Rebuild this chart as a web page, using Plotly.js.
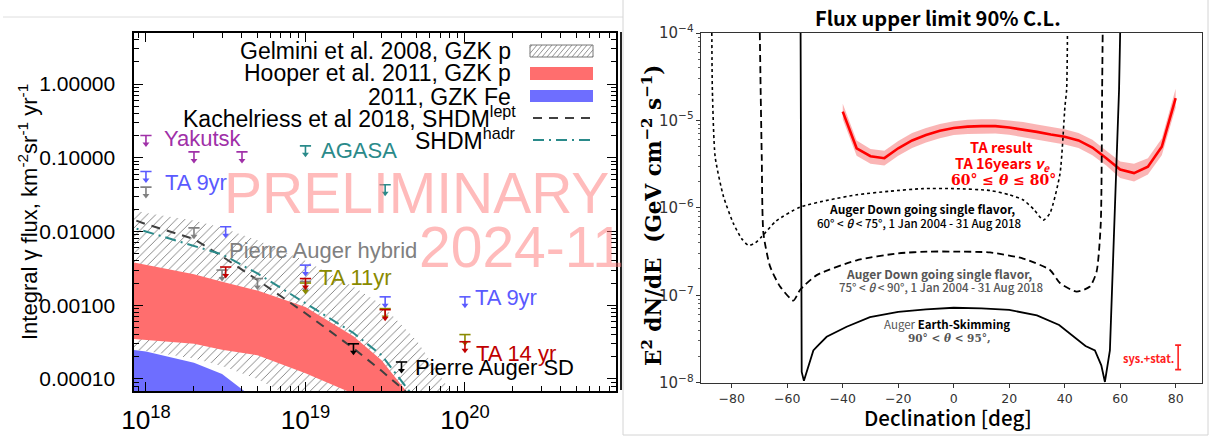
<!DOCTYPE html>
<html><head><meta charset="utf-8">
<script src="https://cdn.plot.ly/plotly-3.0.1.min.js"></script>
<style>html,body{margin:0;padding:0;background:#fff}#chart{width:1214px;height:436px}</style>
</head><body><div id="chart"></div>
<script>
const W = 1214, H = 436;

// ================= LEFT PANEL: integral photon flux =================
// band boundaries (energy in eV, flux in km^-2 sr^-1 yr^-1)
const bandEnergy    = [7e17, 1e18, 2e18, 3e18, 5e18, 1e19, 2e19, 3e19, 5e19, 8e19, 1e20];
const gelminiUpper  = [0.0214, 0.0178, 0.0141, 0.0112, 0.0076, 0.0040, 0.00178, 0.00102, 0.00033, 0.000071, 0.000025];
const gelminiLower  = [0.00026, 0.00024, 0.00019, 0.00015, 0.0001, 0.000045, 0.000016, 0.000008, 0.000003, 0.000001, 0.000001];
const hooperPUpper  = [0.0041, 0.00355, 0.00263, 0.00209, 0.00158, 0.00095, 0.00038, 0.00018, 0.000045, 0.00001, 0.000005];
const hooperPLower  = [0.00036, 0.00034, 0.0003, 0.00025, 0.00021, 0.00012, 0.000063, 0.000032, 0.00001, 0.000003, 0.000001];
const hooperFeUpper = [0.00026, 0.000235, 0.000166, 0.000117, 0.00005, 0.00001, 0.000002, 0.000001, 0.000001, 0.000001, 0.000001];
const hooperFeLower = [0.000001, 0.000001, 0.000001, 0.000001, 0.000001, 0.000001, 0.000001, 0.000001, 0.000001, 0.000001, 0.000001];
// SHDM model lines
const shdmEnergy = [7e17, 1e18, 2e18, 3e18, 5e18, 1e19, 2e19, 3e19, 5e19];
const shdmLept   = [0.0166, 0.0126, 0.0079, 0.0046, 0.0022, 0.00078, 0.00026, 0.000129, 0.00005];
const shdmHadr   = [0.0126, 0.0100, 0.00646, 0.0049, 0.0027, 0.00107, 0.00042, 0.00021, 0.00005];
// upper limits
const yakutskE = [1e18, 2e18, 4e18],            yakutskF = [0.20, 0.12, 0.12];
const agasaE   = [1e19, 3.16e19],                agasaF   = [0.145, 0.043];
const ta9E     = [1e18, 3.16e18, 1e19, 3.16e19, 1e20], ta9F = [0.065, 0.0116, 0.0035, 0.0013, 0.0013];
const pahE     = [1e18, 2e18, 3e18, 5e18, 1e19], pahF = [0.040, 0.0112, 0.0030, 0.0023, 0.0021];
const ta11E    = [1e19, 3.16e19, 1e20],          ta11F    = [0.0020, 0.0009, 0.0004];
const ta14E    = [3.16e18, 1e19, 3.16e19, 1e20], ta14F    = [0.0033, 0.0023, 0.00087, 0.00032];
const pasdE    = [2e19, 4e19],                   pasdF    = [0.0003, 0.00017];

// ================= RIGHT PANEL: E^2 dN/dE vs declination =================
const taDec   = [-40,-35,-30,-25,-20,-15,-10,-5,0,5,10,15,20,25,30,35,40,45,50,55,60,65,70,75,80];
const taFlux  = [1.26e-5,4.8e-6,3.9e-6,3.7e-6,4.8e-6,5.9e-6,6.8e-6,7.6e-6,8.2e-6,8.5e-6,8.6e-6,8.6e-6,8.3e-6,7.9e-6,7.4e-6,6.9e-6,6.5e-6,5.9e-6,4.9e-6,3.7e-6,2.75e-6,2.5e-6,2.95e-6,5.0e-6,1.8e-5];
const taUpper = [1.55e-5,5.9e-6,4.7e-6,4.5e-6,5.8e-6,7.2e-6,8.2e-6,9.1e-6,9.8e-6,1.02e-5,1.03e-5,1.03e-5,1.0e-5,9.6e-6,9.0e-6,8.4e-6,7.9e-6,7.2e-6,6.0e-6,4.5e-6,3.4e-6,3.2e-6,3.7e-6,6.2e-6,2.3e-5];
const taLower = [1.03e-5,3.95e-6,3.2e-6,3.05e-6,3.95e-6,4.85e-6,5.6e-6,6.25e-6,6.8e-6,7.0e-6,7.1e-6,7.1e-6,6.85e-6,6.5e-6,6.05e-6,5.65e-6,5.3e-6,4.85e-6,4.0e-6,3.05e-6,2.2e-6,2.0e-6,2.4e-6,4.0e-6,1.4e-5];

const dg6075Dec  = [-87.2,-87.0,-86.0,-83.0,-79.4,-76.5,-74.0,-71.5,-69.2,-64,-55.4,-45,-35,-23,-11,0,13.1,20,25.1,29,32.3,34.7,38.3,40.1,40.7,41.0];
const dg6075Flux = [1e-4,2.24e-5,3.85e-6,1.35e-6,6.6e-7,4.47e-7,3.72e-7,3.98e-7,4.68e-7,7.08e-7,1.02e-6,1.23e-6,1.41e-6,1.55e-6,1.66e-6,1.66e-6,1.58e-6,1.41e-6,1.23e-6,9.5e-7,7.24e-7,8.7e-7,2.45e-6,1.45e-5,2.24e-5,1e-4];

const dg7590Dec  = [-69.9,-69.6,-69.2,-68.6,-66.2,-62.6,-57.8,-55.4,-49.4,-35,-20,-8.5,0,13.1,25,34.7,38.3,44.3,49.1,51.5,53.0,53.5,53.7];
const dg7590Flux = [1e-4,2.24e-5,3.85e-6,5.13e-7,2.14e-7,1.26e-7,8.7e-8,1.15e-7,1.70e-7,2.51e-7,3.02e-7,3.16e-7,3.16e-7,3.09e-7,2.63e-7,1.95e-7,1.38e-7,1.10e-7,1.26e-7,1.86e-7,6.6e-7,2.24e-5,1e-4];

const esDec  = [-55.2,-55.0,-54.8,-54.0,-52.4,-50.6,-49.4,-45.8,-38.6,-30.2,-20,-10,0,10,20,30,38,43.1,47.5,50.9,53.2,54.5,55.5,56.3,59.6,60.0];
const esFlux = [1e-4,2.0e-8,1.33e-8,1.05e-8,1.58e-8,2.34e-8,2.57e-8,3.35e-8,4.37e-8,5.62e-8,6.46e-8,6.9e-8,7.2e-8,7.1e-8,6.8e-8,5.9e-8,4.57e-8,3.39e-8,2.63e-8,2.34e-8,1.58e-8,1.02e-8,1.55e-8,2.34e-8,2.24e-5,1e-4];

const sysDec = [80.9], sysFlux = [1.95e-8], sysPlus = [0.74e-8], sysMinus = [0.54e-8];

// tick labels
const leftYTickVals  = [1e-4, 1e-3, 1e-2, 1e-1, 1];
const leftYTickText  = ['0.00010', '0.00100', '0.01000', '0.10000', '1.00000'];

// ================= helpers =================
function band(x, up, lo) { return { x: x.concat([...x].reverse()), y: up.concat([...lo].reverse()) }; }
const traces = [];
const g = band(bandEnergy, gelminiUpper, gelminiLower);
traces.push({ x: g.x, y: g.y, xaxis: 'x', yaxis: 'y', mode: 'lines', fill: 'toself', line: { width: 0 },
  fillcolor: '#ffffff', fillpattern: { shape: '/', fgcolor: '#666', bgcolor: '#ffffff', size: 6, solidity: 0.13 }, hoverinfo: 'skip' });
const hp = band(bandEnergy, hooperPUpper, hooperPLower);
traces.push({ x: hp.x, y: hp.y, xaxis: 'x', yaxis: 'y', mode: 'lines', fill: 'toself', line: { width: 0 }, fillcolor: '#ff6e6e', hoverinfo: 'skip' });
const hf = band(bandEnergy, hooperFeUpper, hooperFeLower);
traces.push({ x: hf.x, y: hf.y, xaxis: 'x', yaxis: 'y', mode: 'lines', fill: 'toself', line: { width: 0 }, fillcolor: '#6e6eff', hoverinfo: 'skip' });
traces.push({ x: shdmEnergy, y: shdmLept, xaxis: 'x', yaxis: 'y', mode: 'lines', line: { color: '#404040', width: 2, dash: '9px,7px' } });
traces.push({ x: shdmEnergy, y: shdmHadr, xaxis: 'x', yaxis: 'y', mode: 'lines', line: { color: '#2a8a8a', width: 2, dash: '11px,5px,2px,5px' } });

function ul(E, F, color) {
  traces.push({ x: E, y: F, xaxis: 'x', yaxis: 'y', mode: 'markers', hoverinfo: 'skip',
    marker: { symbol: 'line-ew', size: 8, color: color, line: { width: 1.6, color: color } },
    error_y: { type: 'data', symmetric: false, array: F.map(() => 0), arrayminus: F.map(v => v * (1 - Math.pow(10, -0.1))), width: 0, thickness: 1.6, color: color } });
  traces.push({ x: E, y: F.map(v => v * Math.pow(10, -0.115)), xaxis: 'x', yaxis: 'y', mode: 'markers', hoverinfo: 'skip',
    marker: { symbol: 'triangle-down', size: 6, color: color, line: { width: 0 } } });
}
ul(yakutskE, yakutskF, '#a030a8');
ul(agasaE, agasaF, '#2a8a8a');
ul(pahE, pahF, '#808080');
ul(ta9E, ta9F, '#5a5aff');
ul(ta11E, ta11F, '#8a8a00');
ul(ta14E, ta14F, '#c00000');
ul(pasdE, pasdF, '#000000');

// right panel
const tb = band(taDec, taUpper, taLower);
traces.push({ x: tb.x, y: tb.y, xaxis: 'x2', yaxis: 'y2', mode: 'lines', fill: 'toself', line: { width: 0 }, fillcolor: 'rgba(245,120,120,0.55)', hoverinfo: 'skip' });
traces.push({ x: taDec, y: taFlux, xaxis: 'x2', yaxis: 'y2', mode: 'lines', line: { color: '#ff0000', width: 2.6 } });
traces.push({ x: dg6075Dec, y: dg6075Flux, xaxis: 'x2', yaxis: 'y2', mode: 'lines', line: { color: '#000', width: 1.6, dash: 'dot', shape: 'spline', smoothing: 0.6 } });
traces.push({ x: dg7590Dec, y: dg7590Flux, xaxis: 'x2', yaxis: 'y2', mode: 'lines', line: { color: '#000', width: 1.8, dash: '7px,4px', shape: 'spline', smoothing: 0.6 } });
traces.push({ x: esDec, y: esFlux, xaxis: 'x2', yaxis: 'y2', mode: 'lines', line: { color: '#000', width: 1.8 } });
traces.push({ x: sysDec, y: sysFlux, xaxis: 'x2', yaxis: 'y2', mode: 'markers', marker: { size: 1, color: 'rgba(0,0,0,0)' },
  error_y: { type: 'data', symmetric: false, array: sysPlus, arrayminus: sysMinus, color: '#ff2020', thickness: 1.6, width: 3 } });

const P = (x, y) => ({ xref: 'paper', yref: 'paper', x: x / W, y: 1 - y / H });
function ann(text, x, y, o) { return Object.assign({ text: text, showarrow: false, xanchor: 'center', yanchor: 'middle' }, P(x, y), o || {}); }
const LS = 'Liberation Sans, Arial, sans-serif';
const JP = 'Noto Sans CJK JP, Noto Sans, sans-serif';
const lf = (c, s) => ({ family: LS, size: s || 22, color: c });

const annotations = [
  // watermark
  ann('PRELIMINARY', 416, 193, { font: { family: LS, size: 57, color: 'rgba(255,120,120,0.5)' } }),
  ann('2024-11', 417, 247, { xanchor: 'left', font: { family: LS, size: 57, color: 'rgba(255,120,120,0.5)' } }),
  // legend texts
  ann('Gelmini et al. 2008, GZK p', 513, 51, { xanchor: 'right', font: lf('#000', 23) }),
  ann('Hooper et al. 2011, GZK p', 513, 73, { xanchor: 'right', font: lf('#000', 23) }),
  ann('2011, GZK Fe', 513, 97, { xanchor: 'right', font: lf('#000', 23) }),
  ann('Kachelriess et al 2018, SHDM<sup>lept</sup>', 518, 117, { xanchor: 'right', font: lf('#000', 23) }),
  ann('SHDM<sup>hadr</sup>', 518, 139, { xanchor: 'right', font: lf('#000', 23) }),
  // data labels
  ann('Yakutsk', 162, 139, { xanchor: 'left', font: lf('#a030a8', 22) }),
  ann('AGASA', 319, 150, { xanchor: 'left', font: lf('#2a8a8a', 22) }),
  ann('TA 9yr', 163, 182, { xanchor: 'left', font: lf('#5a5aff', 22) }),
  ann('Pierre Auger hybrid', 227, 250, { xanchor: 'left', font: lf('#808080', 22) }),
  ann('TA 11yr', 317, 277, { xanchor: 'left', font: lf('#8a8a00', 22) }),
  ann('TA 9yr', 473, 297, { xanchor: 'left', font: lf('#5a5aff', 22) }),
  ann('TA 14 yr', 474, 353, { xanchor: 'left', font: lf('#c00000', 22) }),
  ann('Pierre Auger SD', 413, 367, { xanchor: 'left', font: lf('#000', 22) }),
  // left y title
  ann('Integral γ flux, km<sup>-2</sup>sr<sup>-1</sup> yr<sup>-1</sup>', 28, 212, { textangle: -90, font: lf('#000', 22) }),
  // right panel
  ann('<b>Flux upper limit 90% C.L.</b>', 938, 18, { font: { family: JP, size: 20, color: '#000' } }),
  ann('Declination [deg]', 948, 417, { font: { family: JP, size: 20.5, color: '#000', weight: 500 } }),
  ann('<b>E<sup>2</sup> dN/dE  (GeV cm<sup>−2</sup> s<sup>−1</sup>)</b>', 652, 216, { textangle: -90, font: { family: 'DejaVu Serif, serif', size: 21.5, color: '#000' } }),
  ann('<b>TA result</b>', 1001, 146, { font: { family: JP, size: 14.5, color: '#ff0000' } }),
  ann('<b>TA 16years <i>ν<sub>e</sub></i></b>', 1002, 163, { font: { family: JP, size: 14.5, color: '#ff0000' } }),
  ann('<b>60° ≤ <i>θ</i> ≤ 80°</b>', 1003, 180, { font: { family: 'DejaVu Serif, serif', size: 14, color: '#ff0000' } }),
  ann('<b>Auger Down going single flavor,</b>', 922, 209, { font: { family: JP, size: 12, color: '#000' } }),
  ann('60° &lt; <i>θ</i> &lt; 75°, 1 Jan 2004 - 31 Aug 2018', 919, 223, { font: { family: JP, size: 11.5, color: '#000', weight: 500 } }),
  ann('<b>Auger Down going single flavor,</b>', 939, 273, { font: { family: JP, size: 12, color: '#555' } }),
  ann('75° &lt; <i>θ</i> &lt; 90°, 1 Jan 2004 - 31 Aug 2018', 941, 287, { font: { family: JP, size: 11.5, color: '#555', weight: 500 } }),
  ann('<span style="color:#555">Auger</span> <b>Earth-Skimming</b>', 947, 324, { font: { family: JP, size: 11.5, color: '#000' } }),
  ann('<b>90° &lt; <i>θ</i> &lt; 95°,</b>', 949, 338, { font: { family: 'DejaVu Serif, serif', size: 10.5, color: '#555' } }),
  ann('<b>sys.+stat.</b>', 1148, 358, { font: { family: JP, size: 11, color: '#ff2020' } })
];

// shapes: legend swatches and page frames
const shapes = [];
const R = (x0, y0, x1, y1, o) => Object.assign({ type: 'rect', xref: 'paper', yref: 'paper', x0: x0 / W, x1: x1 / W, y0: 1 - y0 / H, y1: 1 - y1 / H }, o);
const L = (x0, y0, x1, y1, o) => Object.assign({ type: 'line', xref: 'paper', yref: 'paper', x0: x0 / W, x1: x1 / W, y0: 1 - y0 / H, y1: 1 - y1 / H }, o);
shapes.push(R(530, 45, 593, 57, { line: { color: '#777', width: 1 }, fillcolor: '#fff' }));
for (let xx = 522; xx < 593; xx += 5) {
  let xa = xx, ya = 57, xb = xx + 10, yb = 45;
  if (xa < 530) { ya = 57 - (530 - xa) * 1.2; xa = 530; }
  if (xb > 593) { yb = 45 + (xb - 593) * 1.2; xb = 593; }
  if (xb > xa) shapes.push(L(xa, ya, xb, yb, { line: { color: '#777', width: 0.8 } }));
}
shapes.push(R(530, 67, 593, 80, { line: { width: 0 }, fillcolor: '#ff6e6e' }));
shapes.push(R(530, 90, 593, 102, { line: { width: 0 }, fillcolor: '#6e6eff' }));
shapes.push(L(533, 118, 593, 118, { line: { color: '#404040', width: 2, dash: '9px,7px' } }));
shapes.push(L(533, 140, 593, 140, { line: { color: '#2a8a8a', width: 2, dash: '11px,5px,2px,5px' } }));
shapes.push(L(3, 17, 623, 17, { line: { color: '#dedede', width: 1 } }));
shapes.push(R(623, -2, 1208, 435, { line: { color: '#d4d4d4', width: 1 }, fillcolor: 'rgba(0,0,0,0)' }));
shapes.push(L(621, 32, 621, 390, { line: { color: '#222', width: 2 } }));

const layout = {
  width: W, height: H, margin: { l: 0, r: 0, t: 0, b: 0 }, paper_bgcolor: '#fff', plot_bgcolor: '#fff', showlegend: false,
  xaxis: { domain: [134 / W, 616 / W], anchor: 'y', type: 'log', range: [17.925, 20.947], dtick: 1, tick0: 0, exponentformat: 'power',
    showline: true, linecolor: '#000', linewidth: 1.6, mirror: 'allticks', ticks: 'inside', ticklen: 9, tickwidth: 1, tickcolor: '#000',
    minor: { ticks: 'inside', ticklen: 5, tickwidth: 1, tickcolor: '#000', showgrid: false },
    showgrid: false, zeroline: false, tickfont: { family: LS, size: 21, color: '#000' }, ticklabelstandoff: 6 },
  yaxis: { domain: [1 - 391 / H, 1 - 32.7 / H], anchor: 'x', type: 'log', range: [-4.163, 0.696],
    tickmode: 'array', tickvals: leftYTickVals, ticktext: leftYTickText,
    showline: true, linecolor: '#000', linewidth: 1.6, mirror: 'allticks', ticks: 'inside', ticklen: 9, tickwidth: 1, tickcolor: '#000',
    minor: { ticks: 'inside', ticklen: 5, tickwidth: 1, tickcolor: '#000', showgrid: false, dtick: 'D1' },
    showgrid: false, zeroline: false, tickfont: { family: LS, size: 21, color: '#000' }, ticklabelstandoff: 13 },
  xaxis2: { domain: [701 / W, 1202 / W], anchor: 'y2', range: [-91.1, 89.5], dtick: 20, tick0: 0,
    showline: true, linecolor: '#333', linewidth: 1, mirror: true, ticks: 'outside', ticklen: 4, tickwidth: 1, tickcolor: '#333',
    showgrid: false, zeroline: false, tickfont: { family: 'DejaVu Sans, sans-serif', size: 12.5, color: '#333' } },
  yaxis2: { domain: [1 - 382.7 / H, 1 - 33 / H], anchor: 'x2', type: 'log', range: [-8, -4], dtick: 1, tick0: 0, exponentformat: 'power',
    showline: true, linecolor: '#333', linewidth: 1, mirror: true, ticks: 'outside', ticklen: 4, tickwidth: 1, tickcolor: '#333',
    minor: { ticks: 'outside', ticklen: 2.5, tickwidth: 0.8, tickcolor: '#333', showgrid: false },
    showgrid: false, zeroline: false, tickfont: { family: 'DejaVu Sans, sans-serif', size: 12, color: '#333' } },
  annotations: annotations, shapes: shapes
};
Plotly.newPlot('chart', traces, layout, { displayModeBar: false, staticPlot: true });
</script></body></html>
